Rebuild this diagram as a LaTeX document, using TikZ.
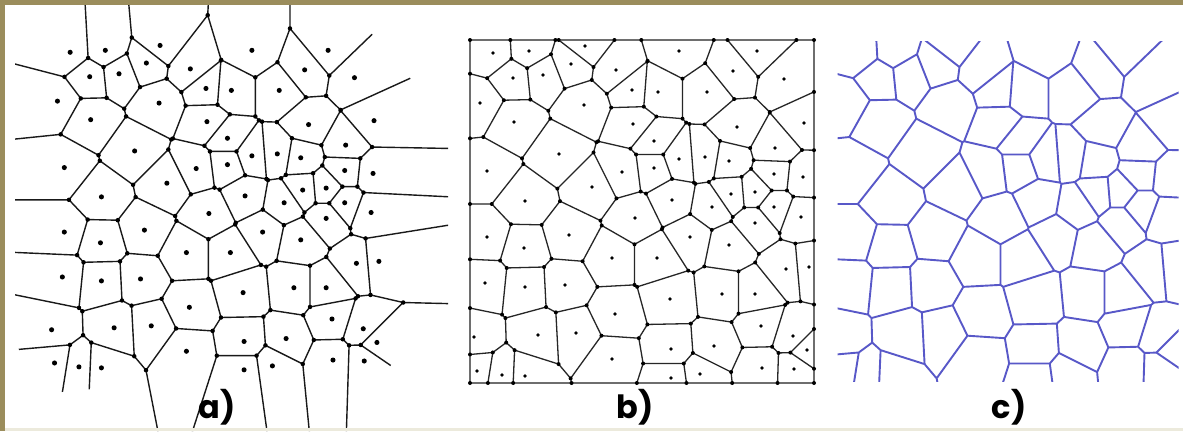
\documentclass[tikz,border=0pt]{standalone}
\usepackage{fontspec}
\newfontfamily\labelfont{Poppins}
\usepackage{xcolor}
\definecolor{frameolive}{RGB}{155,141,92}
\definecolor{framelight}{RGB}{236,234,220}
\definecolor{edgeblue}{RGB}{88,88,200}
\definecolor{boxgray}{RGB}{110,110,110}

% sites, in pixels of panel b (y pointing down)
\def\seeds{493/53,529/51,585/46,513/78,543/75,571/64,616/70,480/103,584/105,632/90,%
514/122,633/124,559/154,487/171,592/187,622/172,525/201,679/51,757/51,733/71,%
784/79,658/92,707/92,737/127,804/123,654/141,775/148,679/159,705/157,729/161,%
654/168,774/174,803/177,755/192,731/194,672/200,712/207,774/207,487/237,524/248,%
569/235,635/218,612/258,485/283,525/287,565/285,615/314,474/337,538/335,576/333,%
612/359,477/371,502/375,525/376,801/217,690/237,755/223,729/245,657/258,786/269,%
670/299,722/294,755/294,761/326,793/336,807/350,671/349,714/346,762/368,794/369,%
671/378,700/374,809/267}

\makeatletter
\newdimen\vor@fp \newdimen\vor@fq \newdimen\vor@mx \newdimen\vor@my
\newdimen\vor@px \newdimen\vor@py
% start a cell as the box
\def\vorbox#1#2#3#4{\gdef\vor@poly{\vor@pt{#1}{#2}\vor@pt{#3}{#2}\vor@pt{#3}{#4}\vor@pt{#1}{#4}}}
% side of the bisector -> \vor@fq
\def\vor@f#1#2{%
  \vor@fq=\dimexpr#1pt-\vor@mx\relax
  \vor@fq=\vor@dx\vor@fq
  \dimen@=\dimexpr#2pt-\vor@my\relax
  \dimen@=\vor@dy\dimen@
  \advance\vor@fq\dimen@}
\def\vor@add#1#2{\edef\vor@new{\unexpanded\expandafter{\vor@new}\noexpand\vor@pt{#1}{#2}}}
\def\vor@cross#1#2{%
  \dimen@=\dimexpr\vor@fp-\vor@fq\relax
  \edef\vor@t{\number\vor@fp}\edef\vor@s{\number\dimen@}%
  \vor@add{\strip@pt\dimexpr\vor@px+(#1pt-\vor@px)*\vor@t/\vor@s\relax}%
          {\strip@pt\dimexpr\vor@py+(#2pt-\vor@py)*\vor@t/\vor@s\relax}}
\def\vor@edge#1#2{%
  \vor@f{#1}{#2}%
  \ifdim\vor@fq>\z@
    \ifdim\vor@fp>\z@\else\vor@cross{#1}{#2}\fi
  \else
    \ifdim\vor@fp>\z@\vor@cross{#1}{#2}\fi
    \vor@add{#1}{#2}%
  \fi
  \vor@fp=\vor@fq \vor@px=#1pt\vor@py=#2pt}
\def\vor@last#1#2{\def\vor@lx{#1}\def\vor@ly{#2}}
\def\vor@cut#1#2#3#4{%
  \vor@mx=\dimexpr(#1pt+#3pt)/2\relax
  \vor@my=\dimexpr(#2pt+#4pt)/2\relax
  \edef\vor@dx{\strip@pt\dimexpr(#3pt-#1pt)/64\relax}%
  \edef\vor@dy{\strip@pt\dimexpr(#4pt-#2pt)/64\relax}%
  \let\vor@pt\vor@last
  \vor@poly
  \vor@f\vor@lx\vor@ly
  \vor@fp=\vor@fq \vor@px=\vor@lx pt\vor@py=\vor@ly pt
  \def\vor@new{}%
  \let\vor@pt\vor@edge
  \vor@poly
  \global\let\vor@poly\vor@new}
\def\vorcut#1#2#3#4{%
  \ifdim#1pt=#3pt
    \ifdim#2pt=#4pt\else\vor@cut{#1}{#2}{#3}{#4}\fi
  \else
    \vor@cut{#1}{#2}{#3}{#4}%
  \fi}
\def\vor@lineform#1#2{(#1,#2) -- }
\def\vor@dotform#1#2{(#1,#2) circle[radius=\noexpand\vordot] }
% all cells inside a box -> \vorlines, \vorverts
\def\vorcompute#1#2#3#4{%
  \gdef\vorlines{}\gdef\vorverts{}%
  \foreach \ix/\iy in \seeds {%
    \vorbox{#1}{#2}{#3}{#4}%
    \foreach \kx/\ky in \seeds {\vorcut\ix\iy\kx\ky}%
    \let\vor@pt\vor@lineform
    \xdef\vorlines{\unexpanded\expandafter{\vorlines}\vor@poly cycle }%
    \let\vor@pt\vor@dotform
    \xdef\vorverts{\unexpanded\expandafter{\vorverts}\vor@poly}%
  }}
\makeatother

\begin{document}
\begin{tikzpicture}[x=1pt, y=-1pt,
  aedge/.style={draw=black!90, line width=1.4pt, line join=round},
  bedge/.style={draw=black!85, line width=1.3pt, line join=round},
  cedge/.style={draw=edgeblue, line width=1.9pt, line join=round},
  lbl/.style={font=\labelfont\bfseries\fontsize{32}{32}\selectfont,
              inner sep=0pt, anchor=base}
]
\useasboundingbox (0,0) rectangle (1183,431);
\fill[white] (0,0) rectangle (1183,431);

% panels b and c
\vorcompute{470}{40}{814}{383}
\draw[bedge] \vorlines;
\draw[boxgray, line width=1.7pt] (470,40) rectangle (814,383);
\def\vordot{2.0}
\fill \vorverts;
\foreach \x/\y in \seeds {\fill (\x,\y) circle[radius=1.8];}
\begin{scope}[shift={(366,0)}]
  \clip (471.5,41.5) rectangle (812.5,381.5);
  \draw[cedge] \vorlines;
\end{scope}

% panel a, same sites, open cells
\vorcompute{425}{-5}{890}{450}
\begin{scope}
  \clip (15,5) -- (300,5) -- (372,34) -- (410,78) -- (448,132) -- (448,308)
    -- (392,363) -- (356,431) -- (143,431) -- (92,389) -- (62,392) -- (20,352)
    -- (15,340) -- cycle;
  \begin{scope}[shift={(-411.5,0.5)}, scale=0.977]
    \draw[aedge] \vorlines;
    \def\vordot{2.3}
    \fill \vorverts;
    \foreach \x/\y in \seeds {\fill (\x,\y) circle[radius=2.6];}
  \end{scope}
\end{scope}

% frame
\fill[frameolive] (0,0) rectangle (1183,5);
\fill[frameolive] (0,0) rectangle (5,431);
\fill[framelight] (5,428) rectangle (1183,431);

\node[lbl] (la) at (217,418) {a)};
\node[lbl] (lb) at (635,418) {b)};
\node[lbl] (lc) at (1009,418) {c)};
\end{tikzpicture}
\end{document}
